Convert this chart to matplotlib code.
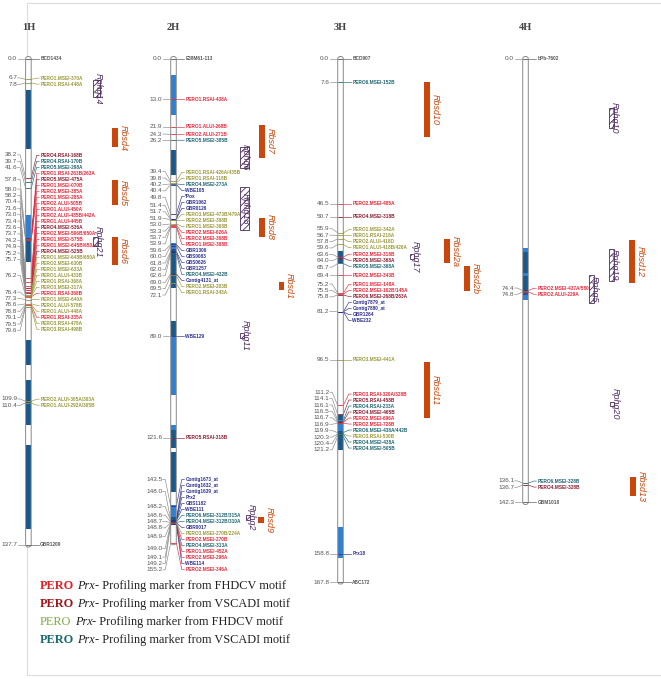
import numpy as np
import matplotlib.pyplot as plt
from matplotlib.patches import Rectangle, FancyBboxPatch

# ---------------- data ----------------
# marker positions (cM), names and colour class
# r = PERO FHDCV, d = PERO VSCADI, o = PERO FHDCV (green), t = PERO VSCADI (teal), n = other, k = anchor
h1_cm = [0.0, 6.7, 7.8, 38.2, 39.7, 41.6, 57.8, 57.8, 57.8, 58.0, 58.2, 70.4, 71.6, 73.0, 73.4, 73.6,
         73.7, 74.2, 74.9, 75.2, 75.7, 76.2, 76.2, 76.2, 76.2, 76.2, 76.4, 77.3, 78.6, 78.8, 79.1, 79.5,
         79.6, 109.9, 110.4, 137.7]
h1_mk = ['BCD1434', 'PERO1.MSEI-370A', 'PERO1.RSAI-448A', 'PERO4.RSAI-168B', 'PERO4.RSAI-170B',
         'PERO5.MSEI-298A', 'PERO1.RSAI-263B/263A', 'PERO5.MSEI-475A', 'PERO1.MSEI-070B',
         'PERO2.MSEI-385A', 'PERO1.MSEI-285A', 'PERO2.ALUI-505B', 'PERO1.ALUI-450A',
         'PERO2.ALUI-435B/442A', 'PERO1.ALUI-445B', 'PERO4.MSEI-536A', 'PERO2.MSEI-596B/650A',
         'PERO1.MSEI-575B', 'PERO1.MSEI-645B/650A', 'PERO4.MSEI-525B', 'PERO1.MSEI-648B/650A',
         'PERO2.MSEI-630B', 'PERO1.MSEI-633A', 'PERO1.ALUI-433B', 'PERO1.RSAI-368A', 'PERO3.MSEI-317A',
         'PERO1.RSAI-368B', 'PERO1.MSEI-640A', 'PERO1.ALUI-578B', 'PERO1.ALUI-448A', 'PERO1.RSAI-335A',
         'PERO3.RSAI-478A', 'PERO3.RSAI-498B', 'PERO2.ALUI-305A/303A', 'PERO1.ALUI-292A/305B', 'GBR1209']
h1_cl = list('koodttrdrrrrrrrdrrrdoooooorooorooook')

h2_cm = [0.0, 13.0, 21.9, 24.3, 26.2, 39.4, 39.8, 40.2, 40.4, 49.8, 51.4, 51.4, 51.7, 51.9, 53.0, 53.3,
         53.7, 53.9, 59.6, 60.0, 61.8, 62.0, 62.6, 69.0, 69.5, 72.1, 89.0, 121.6, 143.5, 148.0, 148.0,
         148.0, 148.2, 148.2, 148.6, 148.7, 148.8, 148.9, 148.9, 149.0, 149.0, 149.1, 149.2, 155.2]
h2_mk = ['E38M61-113', 'PERO1.RSAI-438A', 'PERO1.ALUI-268B', 'PERO2.ALUI-271B', 'PERO5.MSEI-385B',
         'PERO1.RSAI-426A/435B', 'PERO1.RSAI-118B', 'PERO4.MSEI-273A', 'WBE105', '*Pox', 'GBR1062',
         'GBR0126', 'PERO3.MSEI-473B/479A', 'PERO2.MSEI-368B', 'PERO1.MSEI-368B', 'PERO2.MSEI-626A',
         'PERO2.MSEI-368B', 'PERO1.MSEI-368B', 'GBR1306', 'GBS0083', 'GBS0626', 'GBR1257',
         'PERO4.MSEI-432B', 'Contig4131_at', 'PERO2.MSEI-203B', 'PERO1.RSAI-343A', 'WBE129',
         'PERO5.RSAI-318B', 'Contig1673_at', 'Contig1632_at', 'Contig1639_at', 'Prx2', 'GBS1182',
         'WBE111', 'PERO6.MSEI-312B/315A', 'PERO4.MSEI-312B/310A', 'GBR0017', 'PERO3.MSEI-270B/224A',
         'PERO2.MSEI-270B', 'PERO4.MSEI-313A', 'PERO1.MSEI-452A', 'PERO2.MSEI-298A', 'WBE114',
         'PERO2.MSEI-346A']
h2_cl = list('krrrtootnnnnooorrrnnnntnoondnnnnnnttnortrrnr')

h3_cm = [0.0, 7.6, 46.5, 50.7, 55.9, 56.7, 57.8, 59.6, 63.6, 64.0, 65.7, 69.4, 75.2, 75.5, 75.8, 81.2,
         81.2, 81.2, 81.2, 96.5, 111.2, 114.1, 116.1, 116.5, 116.7, 116.9, 119.9, 120.3, 120.4, 121.2,
         158.8, 167.8]
h3_mk = ['BCD907', 'PERO6.MSEI-152B', 'PERO2.MSEI-485A', 'PERO4.MSEI-318B', 'PERO1.MSEI-342A',
         'PERO1.RSAI-218A', 'PERO2.ALUI-418D', 'PERO1.ALUI-418B/426A', 'PERO2.MSEI-318B',
         'PERO5.MSEI-368A', 'PERO5.MSEI-368A', 'PERO2.MSEI-343B', 'PERO1.MSEI-148A',
         'PERO2.MSEI-162B/145A', 'PERO6.MSEI-268B/263A', 'Contig7879_at', 'Contig7880_at', 'GBR1264',
         'WBE232', 'PERO3.MSEI-441A', 'PERO3.RSAI-320A/328B', 'PERO5.RSAI-458B', 'PERO4.RSAI-233A',
         'PERO4.MSEI-465B', 'PERO2.MSEI-696A', 'PERO2.MSEI-728B', 'PERO6.MSEI-438A/442B',
         'PERO3.RSAI-530B', 'PERO4.MSEI-438A', 'PERO4.MSEI-505B', 'Prx18', 'ABC172']
h3_cl = list('ktrdoooordtrrrdnnnnordtdrrtottnk')

h4_cm = [0.0, 74.4, 74.8, 136.1, 136.7, 142.3]
h4_mk = ['bPb-7602', 'PERO2.MSEI-437A/580B', 'PERO2.ALUI-229A', 'PERO6.MSEI-328B', 'PERO4.MSEI-328B',
         'GBM1018']
h4_cl = list('krrtdk')

# shaded chromosome segments (start cM, end cM, shade)
h1_seg = [(10.1, 29.0, 'dk'), (50.2, 57.5, 'md'), (57.5, 65.2, 'dk'), (90.2, 98.2, 'dk'),
          (103.0, 114.6, 'dk'), (118.4, 134.7, 'dk')]
h2_seg = [(5.3, 18.1, 'md'), (29.3, 37.3, 'dk'), (59.1, 61.0, 'md'), (61.0, 73.6, 'dk'),
          (84.0, 89.0, 'dk'), (89.0, 108.0, 'md'), (117.5, 119.0, 'md'), (119.0, 124.8, 'dk'),
          (126.1, 139.0, 'dk'), (143.0, 147.0, 'md'), (147.0, 149.5, 'dk')]
h3_seg = [(61.7, 65.5, 'dk'), (114.3, 116.0, 'dk'), (116.0, 119.5, 'md'), (119.5, 125.5, 'dk'),
          (150.0, 160.0, 'md')]
h4_seg = [(60.7, 62.0, 'md'), (62.0, 68.8, 'dk'), (68.8, 69.7, 'md'), (69.7, 75.8, 'dk'),
          (75.8, 77.4, 'md')]

# QTL intervals (cM) and the chromosome each lies on
qtl_name = ['Rphq14', 'Rbsd4', 'Rbsd5', 'Rphq21', 'Rbsd6',
            'Rbsd7', 'Rphq6', 'Rphq18', 'Rbsd8', 'Rbsd1', 'Rphq11', 'Rphq2', 'Rbsd9',
            'Rbsd10', 'Rphq17', 'Rbsd2a', 'Rbsd11',
            'Rphq10', 'Rbsd12', 'Rphq19', 'Rphq5', 'Rbsd2b', 'Rphq20', 'Rbsd13']
qtl_chr = ['1H'] * 5 + ['2H'] * 8 + ['3H'] * 4 + ['4H'] * 7
qtl_from = [6.9, 22.3, 38.9, 57.2, 57.2,
            21.3, 28.4, 41.2, 51.1, 71.6, 88.0, 146.3, 147.0,
            7.5, 62.7, 57.9, 97.3,
            15.9, 58.2, 61.1, 69.4, 66.5, 110.1, 134.1]
qtl_to = [12.3, 28.4, 47.0, 60.1, 66.2,
          31.9, 35.1, 55.0, 57.2, 74.2, 89.5, 147.9, 148.9,
          25.2, 64.3, 65.5, 115.2,
          22.3, 72.0, 71.3, 78.4, 74.5, 111.4, 140.2]

legend_motif = ['FHDCV', 'VSCADI', 'FHDCV', 'VSCADI']

# ---------------- style / layout ----------------
mk_col = {'r': '#e8283a', 'd': '#8c1c30', 'o': '#9a9838', 't': '#1d6470', 'n': '#2c2f8c', 'k': '#555555'}
seg_col = {'dk': '#17598a', 'md': '#2f7fd2'}
leg_col = ['#e41f26', '#a0161e', '#7faa48', '#1b6a70']
ORANGE, PURPLE = '#c9470c', '#4b2a5e'

chrom = [('1H', 28.4, h1_cm, h1_mk, h1_cl, h1_seg),
         ('2H', 173.5, h2_cm, h2_mk, h2_cl, h2_seg),
         ('3H', 340.5, h3_cm, h3_mk, h3_cl, h3_seg),
         ('4H', 525.5, h4_cm, h4_mk, h4_cl, h4_seg)]
qtl_x = {'Rphq14': (93, 7), 'Rbsd4': (112, 6), 'Rbsd5': (112, 6), 'Rphq21': (93, 5), 'Rbsd6': (112, 6),
         'Rbsd7': (259, 6), 'Rphq6': (240, 9), 'Rphq18': (240, 9), 'Rbsd8': (259, 6), 'Rbsd1': (279, 4.5),
         'Rphq11': (240, 4), 'Rphq2': (246, 4), 'Rbsd9': (258, 6),
         'Rbsd10': (424, 5.5), 'Rphq17': (410, 4), 'Rbsd2a': (444, 5.5), 'Rbsd11': (424, 5.5),
         'Rphq10': (609, 5), 'Rbsd12': (629, 5.5), 'Rphq19': (609, 5), 'Rphq5': (589, 5),
         'Rbsd2b': (464, 5.5), 'Rphq20': (610, 4), 'Rbsd13': (630, 5.5)}

# vertical scale per chromosome: cM knots -> pixel rows (1H is drawn stretched below 110 cM)
Y0, SC = 58.5, 3.12
knots = {'1H': ([0, 110.4, 137.7], [Y0, Y0 + 110.4 * SC, 545.0])}
for c in ('2H', '3H', '4H'):
    knots[c] = ([0, 200], [Y0, Y0 + 200 * SC])


def ypx(ch, cm):
    return float(np.interp(cm, *knots[ch]))


W = 5.6                      # chromosome width (px)
GAP_R, GAP_L = 6.0, 6.4

plt.rcParams['hatch.linewidth'] = 0.6
fig = plt.figure(figsize=(6.61, 6.79), dpi=100)
ax = fig.add_axes([0, 0, 1, 1])
ax.set_xlim(0, 661)
ax.set_ylim(679, 0)
ax.axis('off')

# faint frame
ax.plot([27, 27, 661], [675, 3, 3], color='#dddddd', lw=0.8)
ax.plot([27, 661], [675, 675], color='#dddddd', lw=0.8)


def spread(want, gap):
    # push labels apart; each cluster centred on the midpoint of its range
    pos = list(want)
    cl = []
    for i in range(len(want)):
        cl.append([i, i])
        while True:
            a, b = cl[-1]
            n = b - a + 1
            start = (want[a] + want[b]) / 2 - (n - 1) * gap / 2
            if len(cl) > 1 and start < pos[cl[-2][1]] + gap:
                cl[-2][1] = b
                cl.pop()
                continue
            for k in range(n):
                pos[a + k] = start + k * gap
            break
    return pos


for name, xc, cms, mks, cls, segs in chrom:
    xl, xr = xc - W / 2, xc + W / 2
    ys = [ypx(name, c) for c in cms]
    top, bot = ys[0] - 2, ys[-1] + 2
    ax.text(xc, 28, name, ha='center', va='center', fontsize=7.5, weight='bold',
            family='Liberation Serif', color='#444444')
    ax.add_patch(FancyBboxPatch((xl, top), W, bot - top, boxstyle='round,pad=0,rounding_size=2.5',
                                fc='white', ec='none', zorder=2))
    for s0, s1, c in segs:
        y0, y1 = ypx(name, s0), ypx(name, s1)
        ax.add_patch(Rectangle((xl, y0), W, y1 - y0, fc=seg_col[c], ec='none', zorder=3))
    for y, c in zip(ys, cls):
        ax.plot([xl, xr], [y, y], color=mk_col[c], lw=0.6, zorder=4)
    ax.add_patch(FancyBboxPatch((xl, top), W, bot - top, boxstyle='round,pad=0,rounding_size=2.5',
                                fc='none', ec='#8a8a8a', lw=0.7, zorder=5))

    # right labels
    rpos = spread(ys, GAP_R)
    for y, p, m, c in zip(ys, rpos, mks, cls):
        ax.plot([xr, xr + 5.5, xr + 8], [y, p, p], color=mk_col[c], lw=0.45, zorder=4)
        ax.text(xr + 9, p, m, fontsize=3.45, weight='bold', family='Liberation Sans',
                color=mk_col[c], va='center', ha='left')

    # left labels: one per distinct position
    uniq, want = [], []
    i = 0
    while i < len(cms):
        j = i
        while j + 1 < len(cms) and cms[j + 1] == cms[i]:
            j += 1
        uniq.append(i)
        want.append(sum(rpos[i:j + 1]) / (j - i + 1))
        i = j + 1
    lpos = spread(want, GAP_L)
    for i, p in zip(uniq, lpos):
        ax.plot([xl - 8, xl - 5.5, xl], [p, p, ys[i]], color='#888888', lw=0.45, zorder=4)
        ax.text(xl - 8.5, p, '%.1f' % cms[i], fontsize=4.6, family='Liberation Sans',
                color='#555555', va='center', ha='right')

# QTL bars and labels
for nm, ch, a, b in zip(qtl_name, qtl_chr, qtl_from, qtl_to):
    x0, w = qtl_x[nm]
    y0, y1 = ypx(ch, a), ypx(ch, b)
    mid = (y0 + y1) / 2
    if nm.startswith('Rbsd'):
        ax.add_patch(Rectangle((x0, y0), w, y1 - y0, fc=ORANGE, ec='none', zorder=3))
        ax.text(x0 + w + 0.8, mid, nm, rotation=270, fontsize=6.5, style='italic', color=ORANGE,
                family='Liberation Sans', ha='left', va='center', zorder=4)
    else:
        ax.add_patch(Rectangle((x0, y0), w, y1 - y0, fc='white', ec=PURPLE, lw=0.6, hatch='/////',
                               zorder=3))
        ax.text(x0 + 1, mid, nm, rotation=270, fontsize=6.5, style='italic', color=PURPLE,
                family='Liberation Sans', ha='left', va='center', zorder=4)

# legend
fig.canvas.draw()
rend = fig.canvas.get_renderer()
for k, (motif, col) in enumerate(zip(legend_motif, leg_col)):
    y = 586 + k * 18
    x = 40
    parts = [('PERO', dict(color=col, weight='normal' if k == 2 else 'bold'), 3.2),
             ('Prx', dict(color='#222222', style='italic'), 0),
             ('- Profiling marker from %s motif' % motif, dict(color='#222222'), 0)]
    for s, kw, pad in parts:
        t = ax.text(x, y, s, fontsize=8.8, family='Liberation Serif', va='center', ha='left', **kw)
        x += t.get_window_extent(renderer=rend).width + pad

fig.savefig('out.png', dpi=100)
